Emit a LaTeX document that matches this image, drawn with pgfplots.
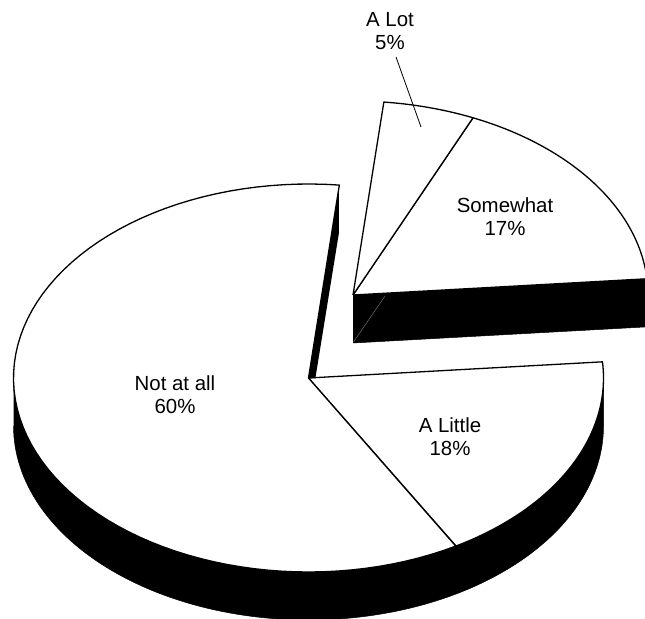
\documentclass[border=0pt]{standalone}
\usepackage{pgfplots}
\pgfplotsset{compat=1.18}
\usepackage{fontspec}
\setmainfont{Liberation Sans}

% data (percent)
\def\pNot{60}\def\pLittle{18}\def\pSome{17}\def\pLot{5}
% geometry (pixel units)
\def\cx{308.5}\def\cy{378}   % main pie apex
\def\ex{353}\def\ey{295}     % exploded slices apex
\def\ra{295}\def\rb{194}\def\hh{48}
\pgfmathsetmacro\aA{84}
\pgfmathsetmacro\aB{\aA+3.6*\pNot}
\pgfmathsetmacro\aC{\aB+3.6*\pLittle}
\pgfmathsetmacro\aD{\aC+3.6*\pSome}
\pgfmathsetmacro\aE{\aD+3.6*\pLot}

\newcommand\slice[5]{%
\addplot[#5, samples at={-1,0,0.0125,...,1,2}, variable=\s]
 ({ifthenelse(abs(\s-0.5)>0.6, #1, #1+\ra*cos(#3+\s*(#4-#3)))},
  {ifthenelse(abs(\s-0.5)>0.6, #2, #2-\rb*sin(#3+\s*(#4-#3)))});
}
\newcommand\rim[4]{%
\addplot[fill=black, draw=black, line width=0.5bp, samples at={0,0.0125,...,2}, variable=\s]
 ({#1+\ra*cos(ifthenelse(\s<=1.005, #3+\s*(#4-#3), #4-max(\s-1.0125,0)/0.9875*(#4-#3)))},
  {#2-\rb*sin(ifthenelse(\s<=1.005, #3+\s*(#4-#3), #4-max(\s-1.0125,0)/0.9875*(#4-#3))) + ifthenelse(\s>1.005,\hh,0)});
}

\begin{document}
\begin{tikzpicture}
\begin{axis}[name=ax,
  width=645bp, height=619bp, scale only axis,
  xmin=0, xmax=645, ymin=0, ymax=619, y dir=reverse,
  hide axis, clip=true]
% side of main pie
\rim{\cx}{\cy}{180}{\aB}
\rim{\cx}{\cy}{\aB}{360}
% A Little top
\slice{\cx}{\cy}{\aB}{\aC}{fill=white, draw=black, line width=1.3bp, line join=round}
% radial face of Not at all (visible sliver)
\addplot[fill=black, draw=none] coordinates {(338.9,185.1) (338.9,233.1) (315.4,378) (308.5,378)};
% Not at all top
\slice{\cx}{\cy}{\aA}{\aB}{fill=white, draw=black, line width=1.3bp, line join=round}
% exploded: Somewhat radial face
\addplot[fill=black, draw=black, line width=0.5bp] coordinates {(353,295) (648,278.8) (648,326.8) (353,343)};
\addplot[gray, line width=0.4bp] coordinates {(353.5,342) (385,296)};
% Somewhat and A Lot tops
\slice{\ex}{\ey}{\aC}{\aD}{fill=white, draw=black, line width=1.3bp, line join=round}
\slice{\ex}{\ey}{\aD}{\aE}{fill=white, draw=black, line width=1.3bp, line join=round}
% leader line
\addplot[black, line width=0.8bp] coordinates {(396,57) (421,127)};
% labels
\node[font=\fontsize{20.5}{23}\selectfont, align=center] at (axis cs:390,31) {A Lot\\5\%};
\node[font=\fontsize{20.5}{23}\selectfont, align=center] at (axis cs:505,217) {Somewhat\\17\%};
\node[font=\fontsize{20.5}{23}\selectfont, align=center] at (axis cs:175,395) {Not at all\\60\%};
\node[font=\fontsize{20.5}{23}\selectfont, align=center] at (axis cs:450,437) {A Little\\18\%};
\end{axis}
\pgfresetboundingbox
\path (ax.south west) rectangle (ax.north east);
\end{tikzpicture}
\end{document}
